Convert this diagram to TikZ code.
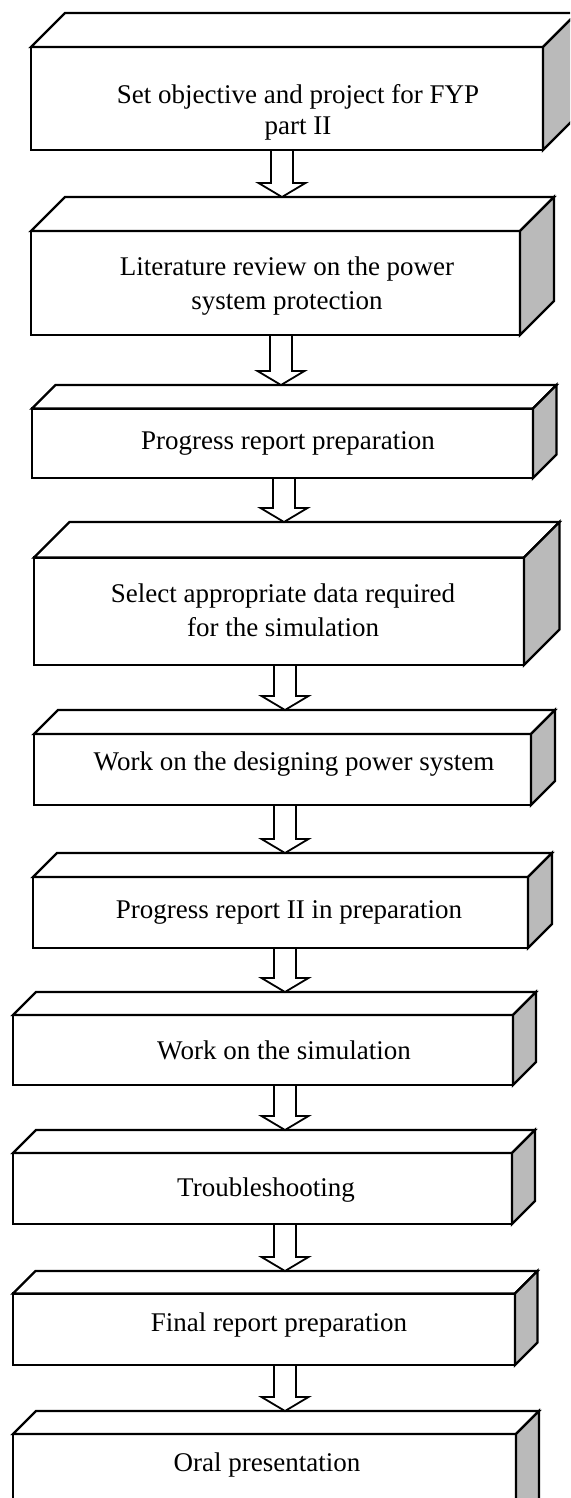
\documentclass[tikz,border=0pt]{standalone}
\usepackage{fontspec}
\setmainfont{Liberation Serif}
\usetikzlibrary{calc}

\tikzset{
  edge/.style={line width=2.4pt, draw=black, line join=miter},
  frontface/.style={edge, fill=white, rectangle, inner sep=0pt, outer sep=0pt},
  topface/.style={edge, fill=white},
  sideface/.style={edge, fill=black!27},
  caption/.style={font=\fontsize{27}{34}\selectfont, align=center, inner sep=0pt},
  blockarrow/.style={line width=1.8pt, draw=black, fill=white, line join=miter},
}

% #1 name, #2 left, #3 right, #4 back top, #5 bottom, #6 depth,
% #7 text x, #8 text y, #9 text
\newcommand\cuboid[9]{%
  \pgfmathsetmacro\cfy{#4+#6}%
  \pgfmathsetmacro\cw{#3-#2}%
  \pgfmathsetmacro\ch{#5-\cfy}%
  \node[frontface, minimum width=\cw pt, minimum height=\ch pt, anchor=north west] (#1) at (#2,\cfy) {};
  \draw[topface] (#1.north west) -- ++(#6,-#6) -- ($(#1.north east)+(#6,-#6)$) -- (#1.north east) -- cycle;
  \draw[sideface] (#1.north east) -- ++(#6,-#6) -- ($(#1.south east)+(#6,-#6)$) -- (#1.south east) -- cycle;
  \coordinate (#1-back) at ($(#1.north)+(#6,-#6)$);
  \node[caption] (#1-text) at (#7,#8) {#9};
}

% hollow block arrow from the bottom of box #1 to the back rim of box #2, axis at x=#3
\newcommand\flowarrow[3]{%
  \coordinate (#1-out) at (#1.south -| #3,0);
  \coordinate (#2-in) at (#3,0 |- #2-back);
  \draw[blockarrow] ($(#1-out)+(-11,1.2)$) -- ($(#2-in)+(-11,-14)$) -- ($(#2-in)+(-23.5,-14)$)
    -- (#2-in) -- ($(#2-in)+(23.5,-14)$) -- ($(#2-in)+(11,-14)$) -- ($(#1-out)+(11,1.2)$);
}

\begin{document}
\begin{tikzpicture}[x=1pt, y=-1pt]
  \useasboundingbox (0,0) rectangle (570,1498);
  \fill[white] (0,0) rectangle (570,1498);
  \clip (0,0) rectangle (570,1498);

  \cuboid{b1}{31}{543}{13}{150}{34}{298}{112}{Set objective and project for FYP\\[-3pt]part II}
  \cuboid{b2}{31}{520}{197}{335}{34}{287}{286}{Literature review on the power\\system protection}
  \cuboid{b3}{32}{533}{385}{478}{23.5}{288}{443}{Progress report preparation}
  \cuboid{b4}{34}{524}{522}{665}{35.5}{283}{610}{Select appropriate data required\\for the simulation}
  \cuboid{b5}{34}{531}{710}{805}{24}{294}{764}{Work on the designing power system}
  \cuboid{b6}{33}{528}{853}{948}{24}{289}{912}{Progress report II in preparation}
  \cuboid{b7}{13}{513}{992}{1085}{23}{284}{1050}{Work on the simulation}
  \cuboid{b8}{13}{512}{1130}{1224}{23}{266}{1190}{Troubleshooting}
  \cuboid{b9}{13}{515}{1271}{1365}{22.5}{279}{1325}{Final report preparation}
  \cuboid{b10}{13}{516}{1411}{1525}{23}{267}{1465}{Oral presentation}

  \flowarrow{b1}{b2}{282}
  \flowarrow{b2}{b3}{281}
  \flowarrow{b3}{b4}{284}
  \flowarrow{b4}{b5}{285}
  \flowarrow{b5}{b6}{285}
  \flowarrow{b6}{b7}{285}
  \flowarrow{b7}{b8}{285}
  \flowarrow{b8}{b9}{285}
  \flowarrow{b9}{b10}{285}
\end{tikzpicture}
\end{document}
